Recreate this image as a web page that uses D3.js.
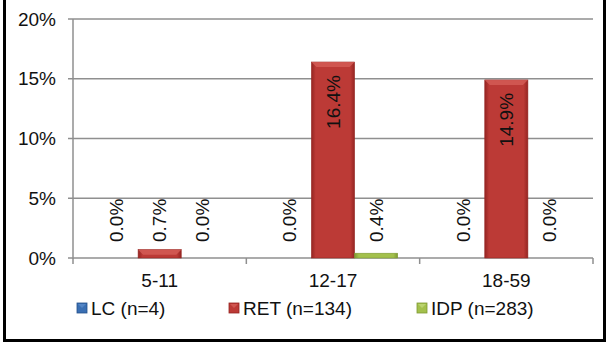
<!DOCTYPE html>
<html>
<head>
<meta charset="utf-8">
<script src="https://cdn.jsdelivr.net/npm/d3@7"></script>
<style>
  html, body { margin: 0; padding: 0; background: #fff; }
  svg { display: block; font-family: "Liberation Sans", Arial, sans-serif; }
</style>
</head>
<body>
<svg id="chart" width="607" height="343"></svg>
<script>
// Age groups on the x axis
const categories = ["5-11", "12-17", "18-59"];
// Share (%) per age group for each population
const lcValues  = [0.0, 0.0, 0.0];
const retValues = [0.7, 16.4, 14.9];
const idpValues = [0.0, 0.4, 0.0];
const seriesNames = ["LC (n=4)", "RET (n=134)", "IDP (n=283)"];
const yTicks = [0, 5, 10, 15, 20];

const seriesColors = [
  { base: "#3A6FB3", dark: "#24508A", light: "#5B8CCB" },
  { base: "#BC3A36", dark: "#952522", light: "#D45E58" },
  { base: "#A3C04C", dark: "#7E9933", light: "#C0D878" }
];

const series = [lcValues, retValues, idpValues].map((vals, i) => ({
  name: seriesNames[i], values: vals, color: seriesColors[i], idx: i
}));

const svg = d3.select("#chart");
const plot = { left: 73, right: 593, top: 19, bottom: 258 };

const defs = svg.append("defs");
series.forEach(s => {
  const g = defs.append("linearGradient")
    .attr("id", "grad" + s.idx)
    .attr("x1", "0%").attr("x2", "100%").attr("y1", "0%").attr("y2", "0%");
  g.append("stop").attr("offset", "0%").attr("stop-color", s.color.dark);
  g.append("stop").attr("offset", "10%").attr("stop-color", s.color.base);
  g.append("stop").attr("offset", "90%").attr("stop-color", s.color.base);
  g.append("stop").attr("offset", "100%").attr("stop-color", s.color.dark);
});

const x0 = d3.scaleBand().domain(categories).range([plot.left, plot.right]).paddingInner(0).paddingOuter(0);
const x1 = d3.scaleBand().domain(series.map(s => s.idx)).range([0, x0.bandwidth()]).paddingOuter(0.51).paddingInner(0);
const y = d3.scaleLinear().domain([0, 20]).range([plot.bottom, plot.top]);

// Horizontal gridlines
svg.append("g").selectAll("line").data(yTicks).join("line")
  .attr("x1", plot.left - 5).attr("x2", plot.right)
  .attr("y1", d => y(d)).attr("y2", d => y(d))
  .attr("stroke", "#8f8f8f").attr("stroke-width", 1.5);

// Y axis line
svg.append("line")
  .attr("x1", plot.left).attr("x2", plot.left)
  .attr("y1", plot.top).attr("y2", plot.bottom + 1)
  .attr("stroke", "#8f8f8f").attr("stroke-width", 1.5);

// Y tick labels
svg.append("g").selectAll("text").data(yTicks).join("text")
  .attr("x", 56).attr("y", d => y(d))
  .attr("text-anchor", "end").attr("dominant-baseline", "central")
  .attr("font-size", 19).attr("fill", "#111")
  .text(d => d + "%");

// Category tick marks
const catEdges = categories.map(c => x0(c)).concat([plot.right]);
svg.append("g").selectAll("line").data(catEdges).join("line")
  .attr("x1", d => d).attr("x2", d => d)
  .attr("y1", plot.bottom).attr("y2", plot.bottom + 6)
  .attr("stroke", "#8f8f8f").attr("stroke-width", 1.5);

// Category labels
svg.append("g").selectAll("text").data(categories).join("text")
  .attr("x", d => x0(d) + x0.bandwidth() / 2).attr("y", 287)
  .attr("text-anchor", "middle").attr("font-size", 19).attr("fill", "#111")
  .text(d => d);

// Bars
const groups = svg.append("g").selectAll("g").data(categories).join("g")
  .attr("transform", c => `translate(${x0(c)},0)`);

const cells = groups.selectAll("g.cell")
  .data((c, ci) => series.map(s => ({ s, v: s.values[ci] })))
  .join("g").attr("class", "cell");

cells.filter(d => d.v > 0).append("rect")
  .attr("x", d => x1(d.s.idx))
  .attr("y", d => y(d.v))
  .attr("width", x1.bandwidth())
  .attr("height", d => y(0) - y(d.v))
  .attr("fill", d => `url(#grad${d.s.idx})`)
  .attr("stroke", d => d.s.color.dark).attr("stroke-width", 0.6);

// Bevel highlight at the top of taller bars
cells.filter(d => y(0) - y(d.v) > 8).append("path")
  .attr("d", d => {
    const bx = x1(d.s.idx), bw = x1.bandwidth(), by = y(d.v);
    return `M${bx},${by} L${bx + bw},${by} L${bx + bw - 5},${by + 5} L${bx + 5},${by + 5} Z`;
  })
  .attr("fill", d => d.s.color.light).attr("opacity", 0.8);

// Value labels (rotated)
cells.append("text")
  .attr("transform", d => {
    const cx = x1(d.s.idx) + x1.bandwidth() / 2;
    const inside = d.v > 5;
    const yy = inside ? y(d.v) + 13 : Math.min(y(d.v) - 7, y(0) - 16);
    return `translate(${cx},${yy}) rotate(-90)`;
  })
  .attr("text-anchor", d => d.v > 5 ? "end" : "start")
  .attr("dominant-baseline", "central")
  .attr("font-size", 19).attr("fill", "#111")
  .text(d => d.v.toFixed(1) + "%");

// Legend
const legendX = [77, 229, 417];
const legend = svg.append("g").selectAll("g").data(series).join("g")
  .attr("transform", (d, i) => `translate(${legendX[i]},303)`);
legend.append("rect")
  .attr("width", 10).attr("height", 10)
  .attr("fill", d => d.color.base).attr("stroke", d => d.color.dark).attr("stroke-width", 0.8);
legend.append("path")
  .attr("d", "M1,1 L9,1 L5,5 Z")
  .attr("fill", d => d.color.light).attr("opacity", 0.8);
legend.append("text")
  .attr("x", 14).attr("y", 12)
  .attr("font-size", 19).attr("fill", "#111")
  .text(d => d.name);

// Outer frame
svg.append("rect")
  .attr("x", 4.5).attr("y", -5).attr("width", 600).attr("height", 345.5)
  .attr("fill", "none").attr("stroke", "#000").attr("stroke-width", 3);
</script>
</body>
</html>
